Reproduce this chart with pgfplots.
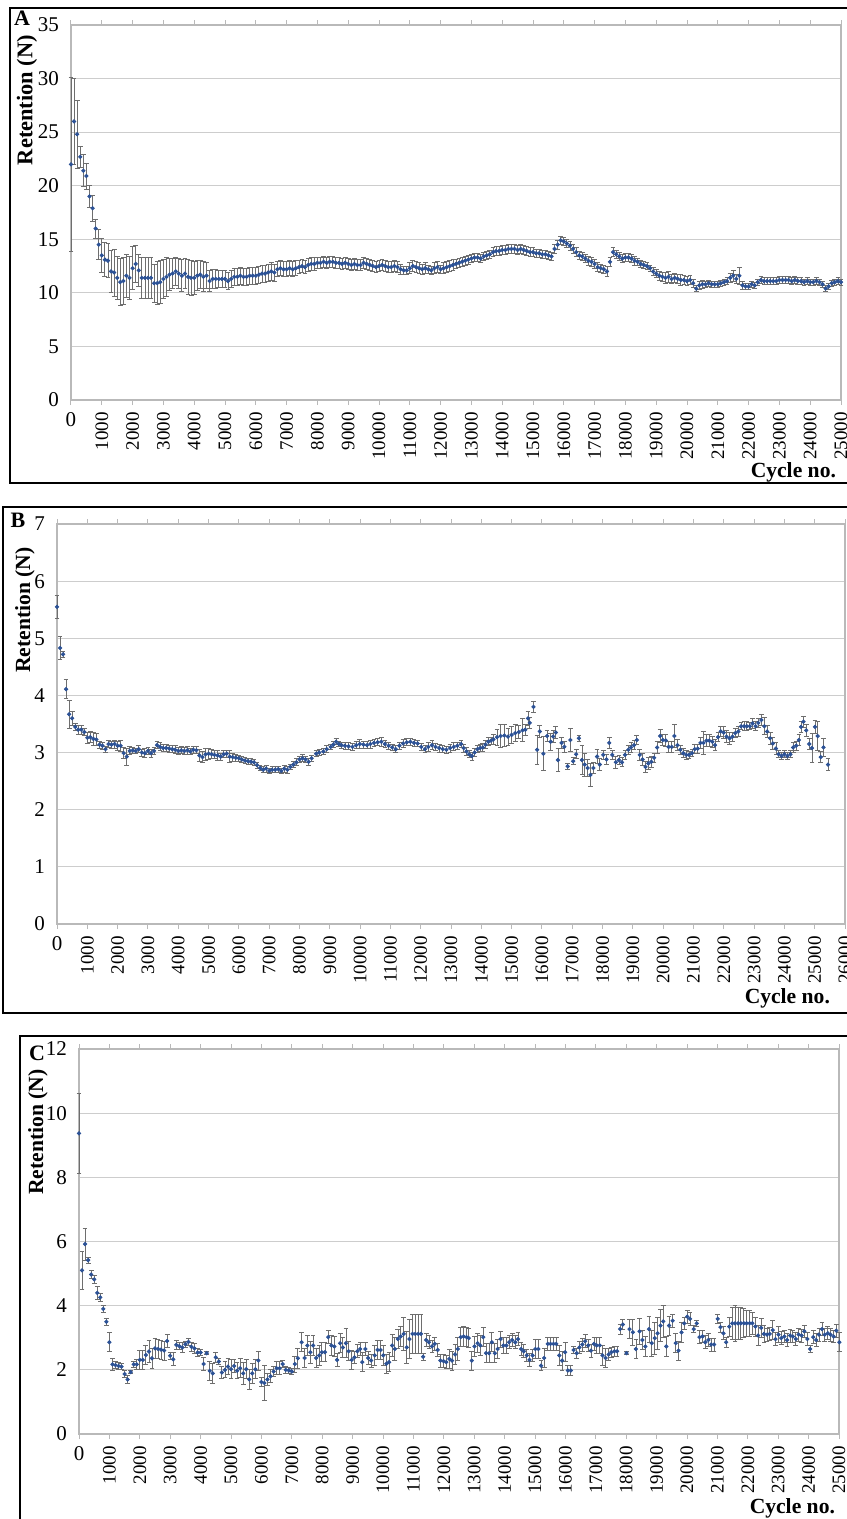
\documentclass[border=0pt]{standalone}
\usepackage{pgfplots}
\pgfplotsset{compat=1.18}
\usepackage{pgfplotstable}
\usepackage{fontspec}
\setmainfont{Liberation Serif}

\definecolor{dotblue}{RGB}{44,82,150}
\definecolor{errgray}{RGB}{110,110,110}
\definecolor{gridgray}{RGB}{205,205,205}
\definecolor{axgray}{RGB}{185,185,185}

% panel A: retention, mean and error
\pgfplotstableread[row sep=\\]{
x y e\\
0 22.0 8.1\\ 100 26.0 4.0\\ 200 24.8 3.2\\ 300 22.7 1.0\\ 400 21.4 1.5\\ 500 20.9 1.2\\ 600 19.0 1.0\\ 700 17.9 1.2\\ 800 16.0 0.9\\ 900 14.5 1.4\\
1000 13.5 1.6\\ 1100 13.1 1.6\\ 1200 13.0 1.6\\ 1300 12.0 2.0\\ 1400 11.9 2.2\\ 1500 11.4 2.0\\ 1600 11.0 2.2\\ 1700 11.1 2.2\\ 1800 11.6 2.0\\ 1900 11.4 2.0\\
2000 12.3 2.0\\ 2100 12.7 1.7\\ 2200 12.1 1.5\\ 2300 11.4 1.9\\ 2400 11.4 1.9\\ 2500 11.4 1.9\\ 2600 11.4 1.9\\ 2700 10.9 1.8\\ 2800 10.9 2.0\\ 2900 11.0 2.0\\
3000 11.3 1.8\\ 3100 11.5 1.8\\ 3200 11.7 1.5\\ 3300 11.8 1.4\\ 3400 12.0 1.3\\ 3500 11.8 1.4\\ 3600 11.6 1.5\\ 3700 11.8 1.4\\ 3800 11.5 1.6\\ 3900 11.4 1.6\\
4000 11.4 1.5\\ 4100 11.6 1.4\\ 4200 11.7 1.3\\ 4300 11.5 1.4\\ 4400 11.6 1.2\\ 4500 11.1 1.0\\ 4600 11.3 0.9\\ 4700 11.3 0.9\\ 4800 11.3 0.8\\ 4900 11.3 0.8\\
5000 11.3 0.8\\ 5100 11.1 0.8\\ 5200 11.3 0.8\\ 5300 11.5 0.8\\ 5400 11.5 0.8\\ 5500 11.6 0.8\\ 5600 11.5 0.8\\ 5700 11.5 0.8\\ 5800 11.6 0.8\\ 5900 11.6 0.8\\
6000 11.6 0.8\\ 6100 11.7 0.8\\ 6200 11.8 0.8\\ 6300 11.8 0.8\\ 6400 11.9 0.8\\ 6500 12.0 0.8\\ 6600 11.9 0.8\\ 6700 12.2 0.7\\ 6800 12.3 0.7\\ 6900 12.2 0.7\\
7000 12.2 0.7\\ 7100 12.3 0.7\\ 7200 12.2 0.7\\ 7300 12.3 0.7\\ 7400 12.4 0.6\\ 7500 12.5 0.6\\ 7600 12.4 0.6\\ 7700 12.6 0.6\\ 7800 12.7 0.6\\ 7900 12.7 0.6\\
8000 12.8 0.5\\ 8100 12.8 0.5\\ 8200 12.9 0.5\\ 8300 12.8 0.5\\ 8400 12.9 0.5\\ 8500 12.9 0.5\\ 8600 12.8 0.5\\ 8700 12.8 0.5\\ 8800 12.7 0.5\\ 8900 12.8 0.5\\
9000 12.7 0.5\\ 9100 12.6 0.5\\ 9200 12.7 0.5\\ 9300 12.6 0.5\\ 9400 12.6 0.5\\ 9500 12.8 0.5\\ 9600 12.7 0.5\\ 9700 12.6 0.5\\ 9800 12.5 0.5\\ 9900 12.4 0.5\\
10000 12.5 0.5\\ 10100 12.6 0.5\\ 10200 12.5 0.5\\ 10300 12.4 0.5\\ 10400 12.4 0.5\\ 10500 12.5 0.5\\ 10600 12.4 0.5\\ 10700 12.2 0.5\\ 10800 12.1 0.4\\ 10900 12.1 0.4\\
11000 12.3 0.5\\ 11100 12.5 0.5\\ 11200 12.4 0.5\\ 11300 12.3 0.5\\ 11400 12.2 0.5\\ 11500 12.3 0.5\\ 11600 12.2 0.4\\ 11700 12.1 0.4\\ 11800 12.3 0.5\\ 11900 12.4 0.5\\
12000 12.2 0.4\\ 12100 12.3 0.5\\ 12200 12.4 0.5\\ 12300 12.5 0.5\\ 12400 12.6 0.5\\ 12500 12.7 0.4\\ 12600 12.8 0.4\\ 12700 12.9 0.4\\ 12800 13.0 0.4\\ 12900 13.1 0.4\\
13000 13.2 0.4\\ 13100 13.3 0.4\\ 13200 13.3 0.4\\ 13300 13.2 0.4\\ 13400 13.4 0.4\\ 13500 13.5 0.4\\ 13600 13.6 0.4\\ 13700 13.8 0.4\\ 13800 13.9 0.4\\ 13900 13.9 0.4\\
14000 14.0 0.4\\ 14100 14.0 0.4\\ 14200 14.1 0.4\\ 14300 14.1 0.4\\ 14400 14.1 0.4\\ 14500 14.0 0.4\\ 14600 14.1 0.4\\ 14700 14.0 0.4\\ 14800 13.9 0.4\\ 14900 13.8 0.4\\
15000 13.8 0.4\\ 15100 13.7 0.4\\ 15200 13.7 0.4\\ 15300 13.6 0.4\\ 15400 13.6 0.4\\ 15500 13.5 0.4\\ 15600 13.4 0.4\\ 15700 14.1 0.4\\ 15800 14.5 0.4\\ 15900 14.9 0.4\\
16000 14.8 0.4\\ 16100 14.6 0.4\\ 16200 14.4 0.4\\ 16300 14.1 0.4\\ 16400 13.8 0.4\\ 16500 13.5 0.4\\ 16600 13.4 0.4\\ 16700 13.2 0.4\\ 16800 13.0 0.4\\ 16900 12.9 0.4\\
17000 12.7 0.4\\ 17100 12.4 0.4\\ 17200 12.3 0.4\\ 17300 12.2 0.4\\ 17400 12.0 0.5\\ 17500 12.9 0.4\\ 17600 13.8 0.4\\ 17700 13.6 0.4\\ 17800 13.4 0.4\\ 17900 13.2 0.4\\
18000 13.3 0.4\\ 18100 13.3 0.4\\ 18200 13.2 0.4\\ 18300 13.0 0.4\\ 18400 12.9 0.3\\ 18500 12.7 0.3\\ 18600 12.6 0.3\\ 18700 12.5 0.3\\ 18800 12.3 0.3\\ 18900 12.0 0.4\\
19000 11.8 0.4\\ 19100 11.6 0.4\\ 19200 11.5 0.4\\ 19300 11.4 0.5\\ 19400 11.5 0.5\\ 19500 11.3 0.4\\ 19600 11.4 0.4\\ 19700 11.3 0.4\\ 19800 11.2 0.5\\ 19900 11.2 0.4\\
20000 11.1 0.4\\ 20100 11.2 0.4\\ 20200 10.9 0.4\\ 20300 10.4 0.3\\ 20400 10.7 0.4\\ 20500 10.8 0.4\\ 20600 10.8 0.3\\ 20700 10.9 0.3\\ 20800 10.8 0.3\\ 20900 10.8 0.3\\
21000 10.8 0.3\\ 21100 10.9 0.3\\ 21200 11.0 0.3\\ 21300 11.1 0.3\\ 21400 11.4 0.4\\ 21500 11.6 0.5\\ 21600 11.3 0.4\\ 21700 11.6 0.8\\ 21800 10.7 0.4\\ 21900 10.6 0.3\\
22000 10.6 0.3\\ 22100 10.8 0.3\\ 22200 10.7 0.3\\ 22300 11.0 0.3\\ 22400 11.2 0.3\\ 22500 11.1 0.3\\ 22600 11.1 0.3\\ 22700 11.1 0.3\\ 22800 11.1 0.3\\ 22900 11.1 0.3\\
23000 11.2 0.3\\ 23100 11.2 0.3\\ 23200 11.2 0.3\\ 23300 11.2 0.3\\ 23400 11.1 0.3\\ 23500 11.2 0.3\\ 23600 11.1 0.3\\ 23700 11.1 0.3\\ 23800 11.0 0.3\\ 23900 11.1 0.3\\
24000 11.0 0.3\\ 24100 11.0 0.3\\ 24200 11.1 0.3\\ 24300 11.0 0.3\\ 24400 10.8 0.3\\ 24500 10.4 0.3\\ 24600 10.6 0.3\\ 24700 10.9 0.3\\ 24800 11.0 0.3\\ 24900 11.1 0.3\\
25000 11.0 0.3\\
}\dataA

% panel B
\pgfplotstableread[row sep=\\]{
x y e\\
0 5.55 0.2\\ 100 4.83 0.2\\ 200 4.72 0.05\\ 300 4.11 0.17\\ 400 3.67 0.25\\ 500 3.60 0.12\\ 600 3.45 0.06\\ 700 3.40 0.08\\ 800 3.40 0.08\\ 900 3.36 0.06\\
1000 3.26 0.1\\ 1100 3.27 0.1\\ 1200 3.24 0.12\\ 1300 3.23 0.1\\ 1400 3.14 0.06\\ 1500 3.12 0.06\\ 1600 3.06 0.05\\ 1700 3.15 0.06\\ 1800 3.14 0.06\\ 1900 3.15 0.07\\
2000 3.12 0.08\\ 2100 3.12 0.1\\ 2200 2.99 0.1\\ 2300 2.93 0.15\\ 2400 3.03 0.07\\ 2500 3.04 0.05\\ 2600 3.03 0.05\\ 2700 3.06 0.06\\ 2800 3.00 0.06\\ 2900 2.99 0.08\\
3000 3.03 0.06\\ 3100 2.99 0.07\\ 3200 3.03 0.06\\ 3300 3.13 0.06\\ 3400 3.10 0.07\\ 3500 3.08 0.06\\ 3600 3.08 0.06\\ 3700 3.07 0.06\\ 3800 3.06 0.06\\ 3900 3.05 0.07\\
4000 3.03 0.06\\ 4100 3.04 0.06\\ 4200 3.03 0.06\\ 4300 3.04 0.07\\ 4400 3.02 0.06\\ 4500 3.05 0.06\\ 4600 3.04 0.06\\ 4700 2.95 0.1\\ 4800 2.92 0.1\\ 4900 2.97 0.1\\
5000 2.98 0.1\\ 5100 2.97 0.08\\ 5200 2.96 0.07\\ 5300 2.95 0.08\\ 5400 2.93 0.06\\ 5500 2.97 0.06\\ 5600 2.98 0.06\\ 5700 2.93 0.1\\ 5800 2.92 0.07\\ 5900 2.91 0.06\\
6000 2.90 0.05\\ 6100 2.88 0.05\\ 6200 2.86 0.05\\ 6300 2.85 0.05\\ 6400 2.84 0.05\\ 6500 2.83 0.05\\ 6600 2.78 0.05\\ 6700 2.73 0.05\\ 6800 2.70 0.05\\ 6900 2.72 0.06\\
7000 2.68 0.05\\ 7100 2.70 0.05\\ 7200 2.70 0.05\\ 7300 2.71 0.05\\ 7400 2.68 0.05\\ 7500 2.72 0.06\\ 7600 2.70 0.06\\ 7700 2.75 0.05\\ 7800 2.79 0.05\\ 7900 2.83 0.06\\
8000 2.88 0.06\\ 8100 2.90 0.06\\ 8200 2.88 0.06\\ 8300 2.84 0.06\\ 8400 2.90 0.05\\ 8550 2.98 0.05\\ 8650 3.00 0.05\\ 8790 3.02 0.05\\ 8900 3.06 0.06\\ 9030 3.10 0.05\\
9120 3.14 0.05\\ 9210 3.19 0.05\\ 9300 3.15 0.05\\ 9390 3.13 0.05\\ 9500 3.12 0.06\\ 9620 3.11 0.06\\ 9750 3.10 0.06\\ 9870 3.13 0.06\\ 9990 3.15 0.08\\ 10110 3.14 0.06\\
10230 3.13 0.06\\ 10340 3.15 0.07\\ 10460 3.17 0.06\\ 10580 3.18 0.06\\ 10700 3.19 0.08\\ 10820 3.15 0.06\\ 10940 3.12 0.06\\ 11060 3.09 0.06\\ 11180 3.06 0.06\\ 11300 3.12 0.06\\
11420 3.16 0.07\\ 11540 3.18 0.06\\ 11660 3.19 0.06\\ 11780 3.17 0.06\\ 11900 3.16 0.06\\ 12020 3.10 0.06\\ 12140 3.06 0.06\\ 12250 3.10 0.08\\ 12370 3.13 0.08\\ 12490 3.10 0.06\\
12610 3.08 0.07\\ 12730 3.06 0.06\\ 12850 3.05 0.06\\ 12970 3.08 0.07\\ 13090 3.10 0.07\\ 13210 3.12 0.06\\ 13330 3.15 0.06\\ 13420 3.08 0.07\\ 13510 3.02 0.07\\ 13600 2.97 0.06\\
13690 2.94 0.07\\ 13780 3.00 0.07\\ 13870 3.06 0.06\\ 13960 3.08 0.06\\ 14050 3.09 0.07\\ 14140 3.14 0.07\\ 14230 3.19 0.07\\ 14320 3.21 0.06\\ 14400 3.23 0.08\\ 14520 3.27 0.14\\
14640 3.29 0.2\\ 14760 3.30 0.2\\ 14880 3.28 0.15\\ 15000 3.31 0.15\\ 15120 3.34 0.15\\ 15240 3.36 0.12\\ 15360 3.39 0.2\\ 15450 3.40 0.1\\ 15540 3.60 0.12\\ 15600 3.52 0.1\\
15720 3.80 0.1\\ 15840 3.05 0.25\\ 15930 3.37 0.1\\ 16050 2.98 0.3\\ 16170 3.29 0.1\\ 16290 3.19 0.15\\ 16370 3.28 0.1\\ 16460 3.35 0.1\\ 16530 2.87 0.2\\ 16650 3.17 0.1\\
16740 3.10 0.1\\ 16850 2.76 0.05\\ 16940 3.22 0.2\\ 17030 2.85 0.06\\ 17130 2.97 0.08\\ 17220 3.25 0.05\\ 17320 2.87 0.25\\ 17410 2.79 0.2\\ 17510 2.73 0.15\\ 17600 2.61 0.2\\
17700 2.73 0.1\\ 17820 2.93 0.12\\ 17910 2.79 0.1\\ 18020 2.96 0.08\\ 18130 2.88 0.08\\ 18220 3.17 0.1\\ 18320 2.96 0.08\\ 18440 2.83 0.1\\ 18540 2.87 0.08\\ 18640 2.83 0.08\\
18740 2.96 0.08\\ 18850 3.05 0.08\\ 18940 3.09 0.08\\ 19040 3.13 0.08\\ 19130 3.22 0.08\\ 19230 2.96 0.1\\ 19320 2.88 0.1\\ 19420 2.75 0.1\\ 19510 2.81 0.1\\ 19610 2.84 0.1\\
19700 2.91 0.08\\ 19800 3.09 0.1\\ 19900 3.29 0.12\\ 19990 3.22 0.1\\ 20090 3.21 0.1\\ 20180 3.10 0.1\\ 20280 3.10 0.1\\ 20370 3.29 0.2\\ 20470 3.13 0.1\\ 20570 3.05 0.08\\
20660 2.99 0.08\\ 20760 2.96 0.08\\ 20850 2.96 0.06\\ 20950 2.99 0.06\\ 21040 3.06 0.08\\ 21140 3.07 0.08\\ 21230 3.17 0.1\\ 21330 3.17 0.2\\ 21430 3.21 0.1\\ 21520 3.21 0.1\\
21620 3.19 0.1\\ 21710 3.13 0.1\\ 21810 3.27 0.08\\ 21900 3.37 0.08\\ 22000 3.35 0.1\\ 22090 3.28 0.1\\ 22190 3.25 0.1\\ 22290 3.28 0.08\\ 22380 3.34 0.08\\ 22480 3.37 0.08\\
22570 3.46 0.06\\ 22670 3.46 0.08\\ 22760 3.46 0.08\\ 22860 3.46 0.06\\ 22950 3.51 0.08\\ 23050 3.46 0.08\\ 23140 3.52 0.08\\ 23240 3.57 0.1\\ 23340 3.46 0.15\\ 23430 3.37 0.1\\
23530 3.25 0.1\\ 23620 3.16 0.1\\ 23720 3.07 0.1\\ 23810 2.97 0.06\\ 23910 2.94 0.06\\ 24000 2.97 0.06\\ 24100 2.94 0.06\\ 24200 2.97 0.06\\ 24290 3.09 0.08\\ 24390 3.12 0.08\\
24480 3.22 0.1\\ 24550 3.45 0.1\\ 24630 3.54 0.1\\ 24720 3.39 0.1\\ 24820 3.15 0.1\\ 24910 3.08 0.25\\ 25010 3.45 0.12\\ 25100 3.29 0.25\\ 25200 2.92 0.1\\ 25290 3.09 0.15\\
25440 2.79 0.1\\
}\dataB

% panel C
\pgfplotstableread[row sep=\\]{
x y e\\
0 9.37 1.25\\ 100 5.10 0.6\\ 200 5.92 0.5\\ 300 5.42 0.1\\ 400 4.97 0.12\\ 500 4.82 0.12\\ 600 4.40 0.2\\ 700 4.26 0.12\\ 800 3.90 0.12\\ 900 3.50 0.1\\
1000 2.86 0.3\\ 1100 2.17 0.2\\ 1200 2.15 0.1\\ 1300 2.12 0.1\\ 1400 2.10 0.1\\ 1500 1.87 0.12\\ 1600 1.70 0.12\\ 1700 1.93 0.05\\ 1800 2.17 0.1\\ 1900 2.17 0.15\\
2000 2.31 0.3\\ 2100 2.31 0.3\\ 2200 2.46 0.3\\ 2300 2.57 0.35\\ 2400 2.36 0.3\\ 2500 2.67 0.3\\ 2600 2.65 0.3\\ 2700 2.63 0.3\\ 2800 2.60 0.3\\ 2900 2.90 0.2\\
3000 2.44 0.1\\ 3100 2.33 0.2\\ 3200 2.78 0.15\\ 3300 2.74 0.1\\ 3400 2.70 0.15\\ 3500 2.80 0.1\\ 3600 2.87 0.1\\ 3700 2.72 0.15\\ 3800 2.67 0.15\\ 3900 2.54 0.12\\
4000 2.54 0.1\\ 4100 2.18 0.2\\ 4200 2.52 0.05\\ 4300 1.97 0.3\\ 4400 1.89 0.3\\ 4500 2.39 0.15\\ 4600 2.26 0.1\\ 4700 1.92 0.2\\ 4800 2.00 0.25\\ 4900 2.10 0.25\\
5000 2.02 0.3\\ 5100 2.12 0.2\\ 5200 1.97 0.25\\ 5300 2.05 0.3\\ 5400 1.89 0.35\\ 5500 2.02 0.3\\ 5600 1.70 0.3\\ 5700 1.89 0.3\\ 5800 2.02 0.3\\ 5900 2.29 0.3\\
6000 1.62 0.15\\ 6100 1.59 0.55\\ 6200 1.70 0.2\\ 6300 1.80 0.2\\ 6400 1.95 0.15\\ 6500 2.05 0.2\\ 6600 2.05 0.2\\ 6700 2.18 0.1\\ 6800 2.00 0.1\\ 6900 1.98 0.1\\
7000 1.95 0.1\\ 7100 2.18 0.25\\ 7200 2.36 0.3\\ 7320 2.86 0.3\\ 7420 2.37 0.3\\ 7510 2.76 0.3\\ 7610 2.55 0.35\\ 7700 2.76 0.3\\ 7800 2.37 0.3\\ 7900 2.45 0.3\\
7990 2.55 0.3\\ 8090 2.55 0.3\\ 8200 3.02 0.2\\ 8300 2.76 0.3\\ 8400 2.73 0.3\\ 8490 2.31 0.2\\ 8590 2.83 0.3\\ 8680 2.70 0.3\\ 8780 2.83 0.45\\ 8870 2.58 0.3\\
8970 2.31 0.3\\ 9060 2.39 0.2\\ 9160 2.58 0.2\\ 9250 2.65 0.2\\ 9320 2.24 0.3\\ 9420 2.65 0.2\\ 9510 2.37 0.2\\ 9610 2.29 0.2\\ 9730 2.45 0.3\\ 9820 2.62 0.3\\
9920 2.62 0.3\\ 10010 2.45 0.3\\ 10110 2.19 0.3\\ 10200 2.24 0.3\\ 10300 2.76 0.35\\ 10390 2.65 0.35\\ 10490 2.96 0.3\\ 10580 3.04 0.3\\ 10680 3.12 0.5\\ 10780 2.70 0.5\\
10870 2.96 0.6\\ 10970 3.12 0.6\\ 11060 3.12 0.6\\ 11160 3.12 0.6\\ 11250 3.12 0.6\\ 11320 2.41 0.1\\ 11420 2.93 0.2\\ 11510 2.86 0.2\\ 11610 2.73 0.2\\ 11700 2.81 0.2\\
11800 2.62 0.2\\ 11890 2.29 0.2\\ 11990 2.27 0.2\\ 12080 2.24 0.2\\ 12180 2.34 0.3\\ 12270 2.29 0.3\\ 12370 2.48 0.3\\ 12460 2.65 0.35\\ 12560 3.02 0.3\\ 12650 3.04 0.3\\
12750 3.02 0.3\\ 12820 2.99 0.3\\ 12920 2.29 0.3\\ 13010 2.73 0.3\\ 13110 2.83 0.3\\ 13200 2.76 0.3\\ 13300 3.02 0.3\\ 13390 2.52 0.3\\ 13490 2.52 0.3\\ 13580 2.86 0.3\\
13680 2.52 0.3\\ 13770 2.65 0.3\\ 13870 2.96 0.25\\ 13960 2.76 0.25\\ 14060 2.76 0.25\\ 14150 2.86 0.2\\ 14250 2.93 0.2\\ 14350 2.86 0.2\\ 14440 2.96 0.2\\ 14540 2.65 0.2\\
14630 2.58 0.2\\ 14730 2.45 0.2\\ 14820 2.31 0.2\\ 14920 2.45 0.2\\ 15010 2.65 0.3\\ 15110 2.65 0.3\\ 15200 2.13 0.15\\ 15300 2.37 0.3\\ 15420 2.81 0.2\\ 15510 2.81 0.2\\
15610 2.81 0.2\\ 15700 2.81 0.2\\ 15800 2.45 0.3\\ 15890 2.29 0.3\\ 15990 2.55 0.3\\ 16080 1.98 0.15\\ 16180 1.98 0.15\\ 16270 2.62 0.1\\ 16370 2.52 0.15\\ 16460 2.70 0.2\\
16560 2.79 0.2\\ 16650 2.89 0.2\\ 16750 2.76 0.2\\ 16840 2.60 0.2\\ 16940 2.81 0.2\\ 17030 2.76 0.25\\ 17130 2.76 0.25\\ 17220 2.45 0.3\\ 17320 2.37 0.3\\ 17420 2.48 0.2\\
17510 2.55 0.15\\ 17610 2.58 0.15\\ 17700 2.58 0.15\\ 17800 3.27 0.15\\ 17890 3.41 0.15\\ 18010 2.52 0.05\\ 18110 3.27 0.3\\ 18220 3.17 0.4\\ 18320 2.65 0.3\\ 18440 3.20 0.4\\
18530 2.93 0.3\\ 18630 2.73 0.3\\ 18750 3.27 0.4\\ 18840 2.83 0.4\\ 18940 2.99 0.5\\ 19030 3.14 0.5\\ 19130 3.38 0.5\\ 19220 3.51 0.5\\ 19320 2.73 0.3\\ 19410 3.38 0.3\\
19530 3.53 0.2\\ 19630 2.83 0.3\\ 19720 2.60 0.3\\ 19820 3.17 0.3\\ 19910 3.45 0.2\\ 20010 3.66 0.2\\ 20100 3.59 0.2\\ 20220 3.27 0.1\\ 20320 3.45 0.1\\ 20410 3.02 0.2\\
20510 3.04 0.2\\ 20600 2.86 0.2\\ 20700 2.93 0.2\\ 20790 2.79 0.2\\ 20890 2.79 0.2\\ 21010 3.59 0.15\\ 21100 3.33 0.15\\ 21200 3.14 0.2\\ 21290 2.86 0.15\\ 21390 3.35 0.3\\
21490 3.45 0.5\\ 21580 3.45 0.55\\ 21680 3.45 0.5\\ 21770 3.45 0.5\\ 21870 3.45 0.45\\ 21960 3.45 0.4\\ 22060 3.45 0.4\\ 22150 3.45 0.35\\ 22250 3.35 0.3\\ 22340 3.07 0.3\\
22440 3.31 0.3\\ 22530 3.12 0.25\\ 22630 3.10 0.2\\ 22720 3.12 0.2\\ 22820 3.24 0.3\\ 22910 2.96 0.2\\ 23010 3.10 0.25\\ 23100 2.99 0.2\\ 23200 3.04 0.2\\ 23290 2.93 0.2\\
23390 3.07 0.2\\ 23480 3.04 0.2\\ 23580 2.96 0.2\\ 23670 3.10 0.2\\ 23770 3.07 0.2\\ 23860 3.20 0.2\\ 23960 2.96 0.2\\ 24050 2.65 0.1\\ 24150 3.02 0.2\\ 24250 2.93 0.2\\
24340 3.10 0.2\\ 24440 3.27 0.2\\ 24530 3.10 0.2\\ 24630 3.14 0.2\\ 24720 3.10 0.2\\ 24820 3.04 0.2\\ 24910 3.22 0.2\\ 25010 2.86 0.3\\
}\dataC

\pgfplotsset{
  panel/.style={
    scale only axis,
    xmin=0, ymin=0,
    axis line style={draw=axgray, line width=0.6pt},
    ymajorgrids, grid style={draw=gridgray, line width=0.6pt},
    tick align=outside, major tick length=2.5pt,
    xtick style={draw=axgray, line width=0.5pt},
    ytick style={draw=none},
    scaled x ticks=false,
    /pgf/number format/.cd, fixed, precision=0, 1000 sep={}, assume math mode=true, /pgfplots/.cd,
    x tick label style={font=\fontsize{9.5}{10}\selectfont, rotate=90, anchor=east},
    y tick label style={font=\fontsize{10.5}{11}\selectfont},
    xtick={1000,2000,...,26000},
    extra x ticks={0},
    extra x tick style={x tick label style={rotate=-90, anchor=north, font=\fontsize{10.5}{11}\selectfont}},
    clip=false,
  },
  pts/.style={
    only marks, mark=*, mark size=0.85pt,
    mark options={draw=dotblue, fill=dotblue},
    error bars/.cd, y dir=both, y explicit,
    error bar style={draw=errgray, line width=0.4pt},
    error mark options={rotate=90, draw=errgray, mark size=1.2pt, line width=0.4pt},
  },
}

\begin{document}
\begin{tikzpicture}
\useasboundingbox (0pt,0pt) rectangle (423pt,-759.5pt);

% frames round the three panels
\draw[line width=1pt] (5pt,-4pt) rectangle (426pt,-241.5pt);
\draw[line width=1pt] (1.5pt,-253.5pt) rectangle (426pt,-506.5pt);
\draw[line width=1pt] (10pt,-518pt) rectangle (426pt,-763pt);

% A
\begin{axis}[panel, at={(35.5pt,-200pt)}, anchor=south west,
  width=385pt, height=187.5pt, xmax=25000, ymax=35, ytick={0,5,...,35}]
\addplot+[pts] table[x=x, y=y, y error=e] {\dataA};
\end{axis}
\node[font=\bfseries\fontsize{11}{12}\selectfont] at (11pt,-9pt) {A};
\node[font=\bfseries\fontsize{11.2}{12}\selectfont, rotate=90] at (13.5pt,-50pt) {Retention (N)};
\node[font=\bfseries\fontsize{10.8}{12}\selectfont, anchor=east] at (421.5pt,-236pt) {Cycle no.};

% B
\begin{axis}[panel, at={(28.5pt,-462pt)}, anchor=south west,
  width=394pt, height=200pt, xmax=26000, ymax=7, ytick={0,1,...,7}]
\addplot+[pts] table[x=x, y=y, y error=e] {\dataB};
\end{axis}
\node[font=\bfseries\fontsize{11}{12}\selectfont] at (9pt,-260pt) {B};
\node[font=\bfseries\fontsize{10.8}{12}\selectfont, rotate=90] at (12.5pt,-305pt) {Retention (N)};
\node[font=\bfseries\fontsize{10.8}{12}\selectfont, anchor=east] at (418.5pt,-499pt) {Cycle no.};

% C
\begin{axis}[panel, at={(39.5pt,-717pt)}, anchor=south west,
  width=380pt, height=192.5pt, xmax=25000, ymax=12, ytick={0,2,...,12}]
\addplot+[pts] table[x=x, y=y, y error=e] {\dataC};
\end{axis}
\node[font=\bfseries\fontsize{11}{12}\selectfont] at (18.5pt,-526.5pt) {C};
\node[font=\bfseries\fontsize{10.8}{12}\selectfont, rotate=90] at (19pt,-566pt) {Retention (N)};
\node[font=\bfseries\fontsize{10.8}{12}\selectfont, anchor=east] at (421pt,-754pt) {Cycle no.};
\end{tikzpicture}
\end{document}
